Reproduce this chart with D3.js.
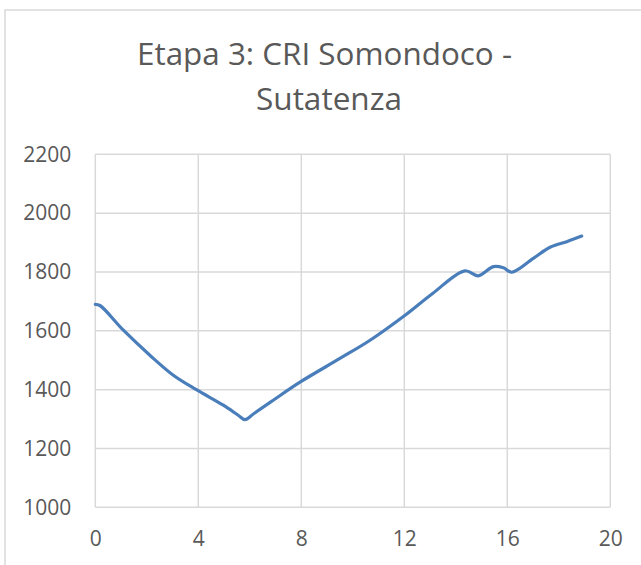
<!DOCTYPE html>
<html>
<head>
<meta charset="utf-8">
<script src="https://cdn.jsdelivr.net/npm/d3@7"></script>
<style>
  html, body { margin: 0; padding: 0; background: #fff; }
  svg { display: block; }
</style>
</head>
<body>
<svg id="chart" width="641" height="565"></svg>
<script>
const titleLines = ["Etapa 3: CRI Somondoco -", "Sutatenza"];
const distance = [0, 0.18, 1.09, 2.12, 3.03, 3.96, 4.97, 5.55, 5.81, 6.15, 6.91, 7.98, 9.50, 10.67, 12.03, 13.1, 14.35, 14.87, 15.46, 15.85, 16.17, 17.01, 17.66, 18.31, 18.89];
const elevation = [1690, 1686, 1602, 1517, 1449, 1398, 1347, 1313, 1298, 1318, 1364, 1427, 1506, 1568, 1653, 1727, 1804, 1787, 1818, 1814, 1799, 1846, 1884, 1903, 1922];
const xTicks = [0, 4, 8, 12, 16, 20];
const yTicks = [1000, 1200, 1400, 1600, 1800, 2000, 2200];

const svg = d3.select("#chart");
const font = "'Open Sans', sans-serif";
const textColor = "#595959";
const gridColor = "#d9d9d9";

// outer chart border
svg.append("rect")
  .attr("x", 5).attr("y", 10)
  .attr("width", 700).attr("height", 600)
  .attr("fill", "none").attr("stroke", gridColor).attr("stroke-width", 1.5);

// title
svg.append("text")
  .attr("x", 137).attr("y", 65)
  .attr("font-family", font).attr("font-size", 31)
  .attr("fill", textColor)
  .attr("textLength", 375).attr("lengthAdjust", "spacingAndGlyphs")
  .text(titleLines[0]);
svg.append("text")
  .attr("x", 256).attr("y", 110)
  .attr("font-family", font).attr("font-size", 31)
  .attr("fill", textColor)
  .attr("textLength", 146).attr("lengthAdjust", "spacingAndGlyphs")
  .text(titleLines[1]);

const x = d3.scaleLinear().domain([0, 20]).range([95.3, 610.3]);
const y = d3.scaleLinear().domain([1000, 2200]).range([507.3, 154.3]);

// grid
const g = svg.append("g");
g.selectAll("line.h").data(yTicks).join("line")
  .attr("x1", x(0)).attr("x2", x(20))
  .attr("y1", d => y(d)).attr("y2", d => y(d))
  .attr("stroke", gridColor).attr("stroke-width", 1.5);
g.selectAll("line.v").data(xTicks).join("line")
  .attr("x1", d => x(d)).attr("x2", d => x(d))
  .attr("y1", y(1000)).attr("y2", y(2200))
  .attr("stroke", gridColor).attr("stroke-width", 1.5);

// axes (labels only)
const yAxis = svg.append("g")
  .attr("transform", `translate(${x(0)},0)`)
  .call(d3.axisLeft(y).tickValues(yTicks).tickSize(0).tickPadding(24).tickFormat(d3.format("d")));
const xAxis = svg.append("g")
  .attr("transform", `translate(0,${y(1000)})`)
  .call(d3.axisBottom(x).tickValues(xTicks).tickSize(0).tickPadding(24).tickFormat(d3.format("d")));
[yAxis, xAxis].forEach(a => {
  a.select(".domain").remove();
  a.selectAll("text").attr("font-family", font).attr("font-size", 21).attr("fill", textColor);
});

// line
const pts = distance.map((d, i) => [d, elevation[i]]);
const line = d3.line().x(d => x(d[0])).y(d => y(d[1])).curve(d3.curveCatmullRom.alpha(0.5));
svg.append("path")
  .datum(pts)
  .attr("d", line)
  .attr("fill", "none")
  .attr("stroke", "#4a7ebb")
  .attr("stroke-width", 3.2)
  .attr("stroke-linecap", "round")
  .attr("stroke-linejoin", "round");
</script>
</body>
</html>
